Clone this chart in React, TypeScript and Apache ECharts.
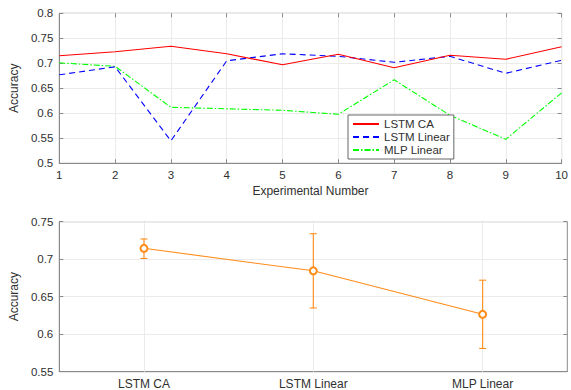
import React, { useEffect, useRef } from "react";
import * as echarts from "echarts";

const experiments = [1, 2, 3, 4, 5, 6, 7, 8, 9, 10];
const lstmCA = [0.715, 0.723, 0.734, 0.719, 0.697, 0.718, 0.691, 0.716, 0.708, 0.733];
const lstmLinear = [0.677, 0.693, 0.545, 0.705, 0.719, 0.714, 0.702, 0.714, 0.68, 0.706];
const mlpLinear = [0.701, 0.694, 0.612, 0.609, 0.606, 0.598, 0.667, 0.596, 0.548, 0.641];

const models = ["LSTM CA", "LSTM Linear", "MLP Linear"];
const meanAcc = [0.7145, 0.6845, 0.6265];
const upperAcc = [0.727, 0.734, 0.672];
const lowerAcc = [0.701, 0.635, 0.581];

const FONT = "Liberation Sans, Arial, Helvetica, sans-serif";
const AXIS = "#8a8a8a";
const GRIDC = "#ebebeb";
const TXT = "#303030";
const ORANGE = "#ff8c1a";

export default function App() {
  const ref = useRef<HTMLDivElement>(null);
  useEffect(() => {
    const chart = echarts.init(ref.current!, null, { renderer: "svg" });
    const gridTop = { left: 56.7, top: 13.3, width: 510.6, height: 150 };
    const gridBot = { left: 56.7, top: 221.7, width: 510.6, height: 150 };
    const label = { color: TXT, fontSize: 11.5, fontFamily: FONT };
    const tickIn = { show: true, inside: true, length: 4, lineStyle: { color: AXIS } };
    const option: any = {
      animation: false,
      backgroundColor: "#fff",
      textStyle: { fontFamily: FONT },
      grid: [
        { ...gridTop, show: true, borderColor: AXIS, borderWidth: 1, backgroundColor: "transparent" },
        { ...gridBot, show: true, borderColor: AXIS, borderWidth: 1, backgroundColor: "transparent" },
      ],
      legend: {
        data: ["LSTM CA", "LSTM Linear", "MLP Linear"],
        orient: "vertical",
        left: 348,
        top: 115,
        padding: [3, 4, 3, 4],
        itemGap: 1,
        itemWidth: 26,
        itemHeight: 12,
        backgroundColor: "#fff",
        borderColor: "#666",
        borderWidth: 1,
        borderRadius: 0,
        itemStyle: { opacity: 0 },
        textStyle: { color: TXT, fontSize: 11.5, fontFamily: FONT },
      },
      xAxis: [
        {
          type: "value",
          gridIndex: 0,
          min: 1,
          max: 10,
          interval: 1,
          axisLine: { lineStyle: { color: AXIS } },
          axisTick: tickIn,
          axisLabel: { ...label, margin: 6 },
          splitLine: { show: true, lineStyle: { color: GRIDC } },
          name: "Experimental Number",
          nameLocation: "middle",
          nameGap: 22,
          nameTextStyle: { color: TXT, fontSize: 12, fontFamily: FONT },
        },
        {
          type: "value",
          gridIndex: 0,
          position: "top",
          min: 1,
          max: 10,
          interval: 1,
          axisLine: { show: false },
          axisTick: tickIn,
          axisLabel: { show: false },
          splitLine: { show: false },
        },
        {
          type: "category",
          gridIndex: 1,
          data: models,
          boundaryGap: true,
          axisLine: { lineStyle: { color: AXIS } },
          axisTick: { ...tickIn, alignWithLabel: true },
          axisLabel: { ...label, fontSize: 12, margin: 6 },
          splitLine: { show: false },
        },
        {
          type: "category",
          gridIndex: 1,
          position: "top",
          data: models,
          boundaryGap: true,
          axisLine: { show: false },
          axisTick: { ...tickIn, alignWithLabel: true },
          axisLabel: { show: false },
          splitLine: { show: false },
        },
      ],
      yAxis: [
        {
          type: "value",
          gridIndex: 0,
          min: 0.5,
          max: 0.8,
          interval: 0.05,
          axisLine: { show: true, lineStyle: { color: AXIS } },
          axisTick: tickIn,
          axisLabel: { ...label, margin: 6 },
          splitLine: { show: true, lineStyle: { color: GRIDC } },
          name: "Accuracy",
          nameLocation: "middle",
          nameGap: 32,
          nameTextStyle: { color: TXT, fontSize: 12, fontFamily: FONT },
        },
        {
          type: "value",
          gridIndex: 0,
          position: "right",
          min: 0.5,
          max: 0.8,
          interval: 0.05,
          axisLine: { show: false },
          axisTick: tickIn,
          axisLabel: { show: false },
          splitLine: { show: false },
        },
        {
          type: "value",
          gridIndex: 1,
          min: 0.55,
          max: 0.75,
          interval: 0.05,
          axisLine: { show: true, lineStyle: { color: AXIS } },
          axisTick: tickIn,
          axisLabel: { ...label, margin: 6 },
          splitLine: { show: true, lineStyle: { color: GRIDC } },
          name: "Accuracy",
          nameLocation: "middle",
          nameGap: 32,
          nameTextStyle: { color: TXT, fontSize: 12, fontFamily: FONT },
        },
        {
          type: "value",
          gridIndex: 1,
          position: "right",
          min: 0.55,
          max: 0.75,
          interval: 0.05,
          axisLine: { show: false },
          axisTick: tickIn,
          axisLabel: { show: false },
          splitLine: { show: false },
        },
      ],
      series: [
        {
          name: "LSTM CA",
          type: "line",
          xAxisIndex: 0,
          yAxisIndex: 0,
          data: experiments.map((e, i) => [e, lstmCA[i]]),
          symbol: "none",
          lineStyle: { color: "#ff0000", width: 1.1 },
          itemStyle: { color: "#ff0000" },
          z: 5,
        },
        {
          name: "LSTM Linear",
          type: "line",
          xAxisIndex: 0,
          yAxisIndex: 0,
          data: experiments.map((e, i) => [e, lstmLinear[i]]),
          symbol: "none",
          lineStyle: { color: "#0000ff", width: 1.1, type: [6, 4] },
          itemStyle: { color: "#0000ff" },
          z: 4,
        },
        {
          name: "MLP Linear",
          type: "line",
          xAxisIndex: 0,
          yAxisIndex: 0,
          data: experiments.map((e, i) => [e, mlpLinear[i]]),
          symbol: "none",
          lineStyle: { color: "#00ff00", width: 1.1, type: [6, 2, 1.5, 2] },
          itemStyle: { color: "#00ff00" },
          z: 3,
        },
        {
          name: "mean",
          type: "line",
          xAxisIndex: 2,
          yAxisIndex: 2,
          data: meanAcc,
          symbol: "emptyCircle",
          symbolSize: 7,
          showSymbol: true,
          lineStyle: { color: ORANGE, width: 1.1 },
          itemStyle: { color: ORANGE, borderWidth: 1.1 },
          markLine: {
            silent: true,
            symbol: "none",
            label: { show: false },
            lineStyle: { color: GRIDC, type: "solid", width: 1 },
            data: models.map((m) => ({ xAxis: m })),
            z: 1,
          },
          z: 5,
        },
        {
          name: "err",
          type: "custom",
          xAxisIndex: 2,
          yAxisIndex: 2,
          data: models.map((_, i) => [i, lowerAcc[i], upperAcc[i]]),
          renderItem: (params: any, api: any) => {
            const idx = api.value(0);
            const lo = api.coord([idx, api.value(1)]);
            const hi = api.coord([idx, api.value(2)]);
            const w = 3.5;
            const style = { stroke: ORANGE, lineWidth: 1.1, fill: "none" };
            return {
              type: "group",
              children: [
                { type: "line", shape: { x1: lo[0], y1: lo[1], x2: hi[0], y2: hi[1] }, style },
                { type: "line", shape: { x1: lo[0] - w, y1: lo[1], x2: lo[0] + w, y2: lo[1] }, style },
                { type: "line", shape: { x1: hi[0] - w, y1: hi[1], x2: hi[0] + w, y2: hi[1] }, style },
              ],
            };
          },
          z: 4,
        },
      ],
    };
    chart.setOption(option);
    return () => chart.dispose();
  }, []);
  return (
    <div
      ref={ref}
      style={{ position: "absolute", left: 0, top: 0, width: 571, height: 390 }}
    />
  );
}
